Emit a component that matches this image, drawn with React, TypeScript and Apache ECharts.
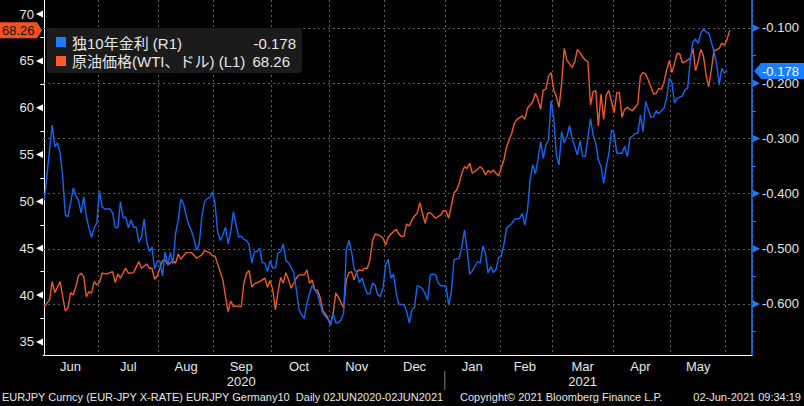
import React, { useEffect, useRef } from 'react';
import * as echarts from 'echarts';

// ---- data (x = trading-day index counted from 2020-06-02, weekdays only) ----
const START_DATE = '2020-06-02';
const DAY_COUNT = 270;
const MONTH_NAMES = ['Jan', 'Feb', 'Mar', 'Apr', 'May', 'Jun', 'Jul', 'Aug', 'Sep', 'Oct', 'Nov', 'Dec'];
const YEAR_LABEL_MONTHS = ['2020-09', '2021-03'];

const leftTicks = [35, 40, 45, 50, 55, 60, 65, 70];
const leftMinorTicks = [37.5, 42.5, 47.5, 52.5, 57.5, 62.5, 67.5];
const rightTicks = [-0.6, -0.5, -0.4, -0.3, -0.2, -0.1];
const rightMinorTicks = [-0.65, -0.55, -0.45, -0.35, -0.25, -0.15];

const bundLast = -0.178;
const wtiLast = 68.26;

const bundYield: [number, number][] = [
  [0, -0.412], [3, -0.276], [4, -0.315], [5, -0.308], [6, -0.326], [7, -0.37], [8, -0.439], [9, -0.442], [10, -0.417],
  [11, -0.39], [12, -0.403], [13, -0.412], [14, -0.435], [15, -0.406], [16, -0.442], [17, -0.462], [18, -0.479], [19, -0.462],
  [20, -0.453], [21, -0.395], [22, -0.424], [23, -0.428], [25, -0.428], [26, -0.435], [27, -0.461], [28, -0.462], [29, -0.415],
  [30, -0.444], [31, -0.442], [32, -0.462], [33, -0.448], [34, -0.461], [35, -0.461], [36, -0.488], [37, -0.479], [38, -0.446],
  [39, -0.488], [40, -0.505], [41, -0.497], [42, -0.537], [43, -0.522], [44, -0.523], [45, -0.549], [46, -0.505], [47, -0.529],
  [48, -0.507], [49, -0.528], [50, -0.472], [51, -0.448], [52, -0.41], [53, -0.418], [54, -0.439], [55, -0.457], [56, -0.467],
  [57, -0.483], [58, -0.503], [59, -0.491], [60, -0.442], [61, -0.415], [62, -0.409], [63, -0.407], [64, -0.397], [65, -0.418],
  [66, -0.469], [67, -0.485], [68, -0.475], [69, -0.461], [70, -0.491], [71, -0.469], [72, -0.433], [74, -0.479], [75, -0.477],
  [76, -0.483], [77, -0.485], [78, -0.493], [79, -0.526], [80, -0.505], [81, -0.505], [82, -0.499], [83, -0.525], [84, -0.526],
  [85, -0.541], [86, -0.522], [87, -0.535], [88, -0.535], [89, -0.507], [90, -0.505], [91, -0.491], [92, -0.522], [93, -0.525],
  [95, -0.543], [96, -0.575], [97, -0.61], [98, -0.62], [99, -0.626], [100, -0.599], [101, -0.581], [102, -0.566], [103, -0.575],
  [104, -0.581], [105, -0.599], [106, -0.616], [108, -0.628], [109, -0.638], [110, -0.618], [111, -0.634], [112, -0.634],
  [113, -0.629], [114, -0.616], [115, -0.502], [116, -0.485], [117, -0.505], [118, -0.537], [119, -0.543], [120, -0.561],
  [121, -0.553], [122, -0.569], [123, -0.582], [124, -0.581], [125, -0.562], [126, -0.566], [127, -0.584], [128, -0.586],
  [129, -0.57], [130, -0.529], [131, -0.519], [132, -0.553], [133, -0.546], [134, -0.58], [135, -0.601], [137, -0.601],
  [138, -0.614], [139, -0.634], [140, -0.611], [141, -0.605], [142, -0.566], [143, -0.569], [144, -0.572], [145, -0.582],
  [146, -0.593], [147, -0.547], [148, -0.546], [149, -0.547], [150, -0.562], [151, -0.567], [152, -0.567], [153, -0.568],
  [154, -0.602], [155, -0.578], [156, -0.52], [158, -0.517], [159, -0.496], [160, -0.466], [161, -0.502], [162, -0.546],
  [163, -0.54], [165, -0.523], [166, -0.526], [167, -0.495], [168, -0.508], [169, -0.544], [170, -0.532], [171, -0.543],
  [172, -0.538], [173, -0.515], [174, -0.514], [175, -0.493], [176, -0.463], [178, -0.454], [179, -0.447], [181, -0.445],
  [182, -0.436], [183, -0.457], [184, -0.43], [185, -0.375], [186, -0.348], [187, -0.364], [188, -0.339], [189, -0.306],
  [190, -0.336], [191, -0.312], [192, -0.303], [193, -0.232], [194, -0.264], [195, -0.33], [196, -0.348], [197, -0.288],
  [198, -0.308], [199, -0.297], [200, -0.277], [201, -0.3], [203, -0.33], [204, -0.304], [205, -0.332], [206, -0.333],
  [208, -0.264], [209, -0.294], [210, -0.309], [211, -0.339], [212, -0.351], [213, -0.381], [214, -0.351], [215, -0.327],
  [216, -0.285], [217, -0.291], [218, -0.327], [220, -0.327], [221, -0.314], [222, -0.333], [223, -0.3], [225, -0.291],
  [226, -0.291], [227, -0.258], [228, -0.288], [229, -0.233], [231, -0.262], [232, -0.261], [233, -0.25], [234, -0.255],
  [236, -0.245], [237, -0.227], [238, -0.191], [239, -0.199], [240, -0.236], [241, -0.227], [243, -0.223], [244, -0.212],
  [245, -0.209], [246, -0.158], [247, -0.125], [248, -0.12], [249, -0.128], [250, -0.11], [251, -0.102], [252, -0.107],
  [253, -0.109], [254, -0.125], [255, -0.143], [256, -0.164], [257, -0.203], [258, -0.173], [259, -0.182], [260, -0.178],
];

const wtiPrice: [number, number][] = [
  [0, 38.77], [2, 39.48], [3, 41.43], [4, 40.26], [6, 41.43], [7, 39.83], [8, 38.31], [9, 38.63], [10, 40.26], [11, 40.01],
  [12, 40.9], [13, 42.07], [14, 42.33], [15, 41.97], [16, 39.83], [17, 40.37], [18, 40.2], [19, 41.43], [20, 41.08], [21, 41.33],
  [22, 42.33], [24, 42.26], [26, 42.5], [27, 41.33], [28, 42.26], [29, 41.8], [31, 42.86], [32, 42.33], [34, 42.39], [36, 43.57],
  [37, 42.86], [39, 43.32], [40, 42.86], [41, 42.86], [42, 41.69], [43, 42.04], [44, 42.86], [45, 43.67], [46, 43.75], [47, 43.22],
  [49, 43.67], [50, 43.4], [51, 44.39], [52, 43.82], [54, 44.53], [56, 44.53], [57, 44.28], [58, 43.93], [60, 44.28], [61, 44.74],
  [63, 44.53], [64, 44.18], [65, 44.18], [66, 43.32], [68, 41.62], [69, 39.83], [70, 38.23], [71, 39.37], [72, 38.77], [73, 38.84],
  [75, 38.77], [76, 41.26], [77, 42.33], [78, 42.61], [79, 40.84], [80, 41.19], [82, 41.43], [83, 41.62], [84, 41.8], [85, 40.84],
  [86, 41.54], [87, 40.55], [88, 38.41], [89, 40.37], [90, 41.9], [91, 41.26], [92, 42.39], [93, 41.62], [94, 40.73], [96, 41.8],
  [97, 42.15], [98, 42.15], [99, 42.15], [100, 42.68], [101, 41.26], [102, 41.62], [103, 40.55], [104, 40.55], [105, 39.77],
  [106, 38.41], [108, 37.53], [109, 36.81], [110, 38.06], [111, 40.2], [112, 39.77], [114, 38.6], [115, 41.62], [116, 42.39],
  [117, 42.5], [118, 41.62], [119, 42.5], [120, 42.68], [121, 42.61], [122, 42.86], [123, 42.86], [124, 43.75], [125, 45.81],
  [126, 46.52], [128, 46.31], [129, 46.06], [130, 45.35], [131, 46.17], [132, 46.52], [134, 47.03], [135, 46.52], [136, 46.24],
  [137, 46.31], [138, 47.59], [139, 47.38], [140, 48.02], [141, 48.44], [142, 48.73], [143, 49.86], [144, 48.73], [145, 47.67],
  [146, 48.73], [147, 48.8], [149, 48.2], [151, 48.55], [152, 49.01], [153, 48.98], [154, 48.2], [156, 50.87], [157, 51.22],
  [158, 51.93], [159, 53.0], [160, 53.71], [161, 53.53], [162, 54.07], [163, 53.0], [165, 53.43], [166, 53.71], [167, 53.43],
  [168, 52.82], [169, 53.28], [170, 53.06], [171, 53.35], [172, 53.0], [173, 52.71], [175, 54.42], [176, 55.78], [177, 56.55],
  [178, 57.27], [179, 58.34], [180, 58.76], [182, 59.12], [183, 58.76], [184, 59.94], [185, 60.29], [186, 60.64], [187, 61.54],
  [188, 60.9], [189, 59.83], [190, 61.89], [191, 61.96], [192, 63.38], [193, 63.74], [194, 61.89], [195, 61.18], [196, 60.04],
  [197, 62.6], [198, 66.34], [199, 65.09], [201, 64.31], [202, 64.91], [203, 66.23], [204, 65.87], [205, 65.44], [206, 65.09],
  [207, 64.91], [208, 60.29], [209, 61.71], [210, 61.82], [211, 58.05], [212, 61.46], [213, 58.76], [214, 61.36], [215, 61.82],
  [216, 60.64], [217, 59.47], [218, 61.6], [219, 61.6], [220, 58.98], [221, 59.83], [222, 60.04], [223, 59.83], [224, 59.68],
  [226, 60.4], [227, 63.38], [228, 63.74], [229, 63.6], [230, 62.96], [232, 61.46], [233, 61.54], [234, 62.07], [235, 61.96],
  [236, 62.78], [237, 64.02], [238, 65.02], [239, 63.74], [240, 64.74], [241, 65.81], [242, 65.73], [243, 64.8], [244, 64.91],
  [246, 65.27], [247, 66.34], [248, 63.95], [249, 64.91], [250, 66.23], [251, 65.52], [252, 63.49], [253, 62.24], [254, 64.02],
  [255, 66.08], [256, 66.16], [257, 66.34], [258, 66.87], [259, 66.69], [260, 67.3], [261, 68.26],
];

const BLUE = '#1068f5';
const BLUE_BRIGHT = '#1a7cff';
const ORANGE = '#f0592a';
const TEXT = '#e6e6e6';
const GRID = '#5c5c5c';
const FONT = '"Liberation Sans", "Noto Sans CJK JP", sans-serif';

function buildWeekdays(): string[] {
  const out: string[] = [];
  const d = new Date(START_DATE + 'T00:00:00Z');
  while (out.length < DAY_COUNT) {
    const wd = d.getUTCDay();
    if (wd !== 0 && wd !== 6) out.push(d.toISOString().slice(0, 10));
    d.setUTCDate(d.getUTCDate() + 1);
  }
  return out;
}

export default function App() {
  const ref = useRef<HTMLDivElement>(null);
  useEffect(() => {
    if (!ref.current) return;
    const chart = echarts.init(ref.current, undefined, { renderer: 'svg' });
    const days = buildWeekdays();
    const monthKey = (s: string) => s.slice(0, 7);
    const monthStarts = new Set<number>();
    const groups: { key: string; start: number; end: number }[] = [];
    days.forEach((d, i) => {
      const k = monthKey(d);
      if (i === 0 || k !== monthKey(days[i - 1])) {
        if (i > 0) monthStarts.add(i);
        groups.push({ key: k, start: i, end: i });
      } else groups[groups.length - 1].end = i;
    });
    const labelIdx = new Set<number>();
    groups.forEach((g) => {
      if (g.end - g.start + 1 >= 15) labelIdx.add(Math.floor((g.start + g.end) / 2));
    });

    const option: any = {
      animation: false,
      backgroundColor: '#000',
      grid: { left: 43, right: 52, top: 0, bottom: 51 },
      xAxis: [
        { type: 'value', min: -0.5, max: DAY_COUNT - 0.5, show: false, position: 'bottom' },
        {
          type: 'category',
          data: days,
          boundaryGap: true,
          position: 'bottom',
          axisLine: { lineStyle: { color: '#ffffff', width: 1 } },
          axisTick: { interval: (i: number) => monthStarts.has(i), length: 3, lineStyle: { color: '#ffffff' } },
          splitLine: {
            show: true,
            interval: (i: number) => monthStarts.has(i),
            lineStyle: { color: GRID, type: [2, 3], width: 1 },
          },
          axisLabel: {
            interval: (i: number) => labelIdx.has(i),
            formatter: (v: string) => {
              const m = MONTH_NAMES[parseInt(v.slice(5, 7), 10) - 1];
              return YEAR_LABEL_MONTHS.includes(v.slice(0, 7)) ? m + '\n' + v.slice(0, 4) : m;
            },
            color: TEXT,
            fontSize: 13,
            fontFamily: FONT,
            lineHeight: 15,
            margin: 4,
          },
        },
      ],
      yAxis: [
        {
          type: 'value',
          position: 'left',
          min: 33.6,
          max: 71.5,
          axisLine: { show: true, lineStyle: { color: '#ffffff', width: 1 } },
          axisTick: { show: true, customValues: leftMinorTicks, length: 4, lineStyle: { color: '#ffffff' } },
          axisLabel: { customValues: leftTicks, color: TEXT, fontSize: 13, fontFamily: FONT, margin: 9 },
          splitLine: { show: false },
        },
        {
          type: 'value',
          position: 'right',
          min: -0.6924,
          max: -0.0493,
          axisLine: { show: true, lineStyle: { color: BLUE_BRIGHT, width: 1.5 } },
          axisTick: { show: true, customValues: rightMinorTicks, length: 4, lineStyle: { color: BLUE_BRIGHT } },
          axisLabel: {
            customValues: rightTicks,
            formatter: (v: number) => v.toFixed(3),
            color: TEXT,
            fontSize: 13,
            fontFamily: FONT,
            margin: 10,
          },
          splitLine: { show: false },
        },
      ],
      series: [
        {
          type: 'line',
          xAxisIndex: 0,
          yAxisIndex: 1,
          data: [],
          z: 1,
          silent: true,
          markLine: {
            silent: true,
            symbol: 'none',
            label: { show: false },
            lineStyle: { color: GRID, type: [2, 3], width: 1 },
            data: rightTicks.map((v) => ({ yAxis: v })),
          },
        },
        {
          name: '原油価格(WTI、ドル) (L1)',
          type: 'line',
          xAxisIndex: 0,
          yAxisIndex: 0,
          data: wtiPrice,
          showSymbol: false,
          symbol: 'none',
          lineStyle: { color: ORANGE, width: 1.4 },
          z: 3,
        },
        {
          name: '独10年金利 (R1)',
          type: 'line',
          xAxisIndex: 0,
          yAxisIndex: 1,
          data: bundYield,
          showSymbol: false,
          symbol: 'none',
          lineStyle: { color: BLUE, width: 1.4 },
          z: 4,
        },
      ],
    };
    chart.setOption(option);

    const yL = (v: number) => chart.convertToPixel({ yAxisIndex: 0 }, v) as number;
    const yR = (v: number) => chart.convertToPixel({ yAxisIndex: 1 }, v) as number;
    const xAt = (v: number) => chart.convertToPixel({ xAxisIndex: 0 }, v) as number;
    const leftX = xAt(-0.5);
    const rightX = xAt(DAY_COUNT - 0.5);
    const janStart = Array.from(monthStarts).find((i) => days[i].slice(0, 7) === '2021-01') as number;
    const sepX = xAt(janStart - 0.5);

    const graphics: any[] = [];
    leftTicks.forEach((v) => {
      const y = yL(v);
      graphics.push({
        type: 'polygon',
        shape: { points: [[leftX - 7, y], [leftX, y - 3.5], [leftX, y + 3.5]] },
        style: { fill: '#ffffff' },
        z: 10,
      });
    });
    rightTicks.forEach((v) => {
      const y = yR(v);
      graphics.push({
        type: 'polygon',
        shape: { points: [[rightX + 1, y - 3.5], [rightX + 8, y], [rightX + 1, y + 3.5]] },
        style: { fill: BLUE_BRIGHT },
        z: 10,
      });
    });
    // last-value tags
    const yw = yL(wtiLast);
    graphics.push({
      type: 'polygon',
      shape: { points: [[0, yw - 8], [37, yw - 8], [42, yw], [37, yw + 8], [0, yw + 8]] },
      style: { fill: '#f4511e' },
      z: 20,
    });
    graphics.push({
      type: 'text',
      x: 2,
      y: yw,
      style: { text: wtiLast.toFixed(2), fill: '#111', font: `13px ${FONT}`, textVerticalAlign: 'middle' },
      z: 21,
    });
    const yb = yR(bundLast);
    graphics.push({
      type: 'polygon',
      shape: { points: [[rightX + 2, yb], [rightX + 9, yb - 8], [804, yb - 8], [804, yb + 8], [rightX + 9, yb + 8]] },
      style: { fill: BLUE_BRIGHT },
      z: 20,
    });
    graphics.push({
      type: 'text',
      x: rightX + 10,
      y: yb,
      style: { text: bundLast.toFixed(3), fill: '#ffffff', font: `13px ${FONT}`, textVerticalAlign: 'middle' },
      z: 21,
    });
    // legend box
    graphics.push({
      type: 'rect',
      shape: { x: 47, y: 28, width: 255, height: 45, r: 3 },
      style: { fill: '#1b1b1b' },
      z: 20,
    });
    graphics.push({ type: 'rect', shape: { x: 56, y: 37, width: 10, height: 10 }, style: { fill: BLUE_BRIGHT }, z: 21 });
    graphics.push({ type: 'rect', shape: { x: 56, y: 56, width: 10, height: 10 }, style: { fill: '#ff5a28' }, z: 21 });
    graphics.push({
      type: 'text', x: 72, y: 43,
      style: { text: '独10年金利 (R1)', fill: TEXT, font: `15px ${FONT}`, textVerticalAlign: 'middle' }, z: 21,
    });
    graphics.push({
      type: 'text', x: 296, y: 43,
      style: { text: bundLast.toFixed(3), fill: TEXT, font: `15px ${FONT}`, textAlign: 'right', textVerticalAlign: 'middle' }, z: 21,
    });
    graphics.push({
      type: 'text', x: 72, y: 61,
      style: { text: '原油価格(WTI、ドル) (L1)', fill: TEXT, font: `15px ${FONT}`, textVerticalAlign: 'middle' }, z: 21,
    });
    graphics.push({
      type: 'text', x: 290, y: 61,
      style: { text: wtiLast.toFixed(2), fill: TEXT, font: `15px ${FONT}`, textAlign: 'right', textVerticalAlign: 'middle' }, z: 21,
    });
    // year separator
    graphics.push({
      type: 'line',
      shape: { x1: sepX, y1: 371, x2: sepX, y2: 390 },
      style: { stroke: '#808080', lineWidth: 1 },
    });
    // footer
    graphics.push({
      type: 'text', x: 2, y: 397,
      style: {
        text: 'EURJPY Curncy (EUR-JPY X-RATE) EURJPY Germany10  Daily 02JUN2020-02JUN2021',
        fill: TEXT, font: `11px ${FONT}`, textVerticalAlign: 'middle',
      },
    });
    graphics.push({
      type: 'text', x: 460, y: 397,
      style: { text: 'Copyright© 2021 Bloomberg Finance L.P.', fill: TEXT, font: `11px ${FONT}`, textVerticalAlign: 'middle' },
    });
    graphics.push({
      type: 'text', x: 801, y: 397,
      style: { text: '02-Jun-2021 09:34:19', fill: TEXT, font: `11px ${FONT}`, textAlign: 'right', textVerticalAlign: 'middle' },
    });
    chart.setOption({ graphic: graphics });

    return () => chart.dispose();
  }, []);
  return <div ref={ref} style={{ width: 804, height: 406, position: 'absolute', left: 0, top: 0, background: '#000' }} />;
}
